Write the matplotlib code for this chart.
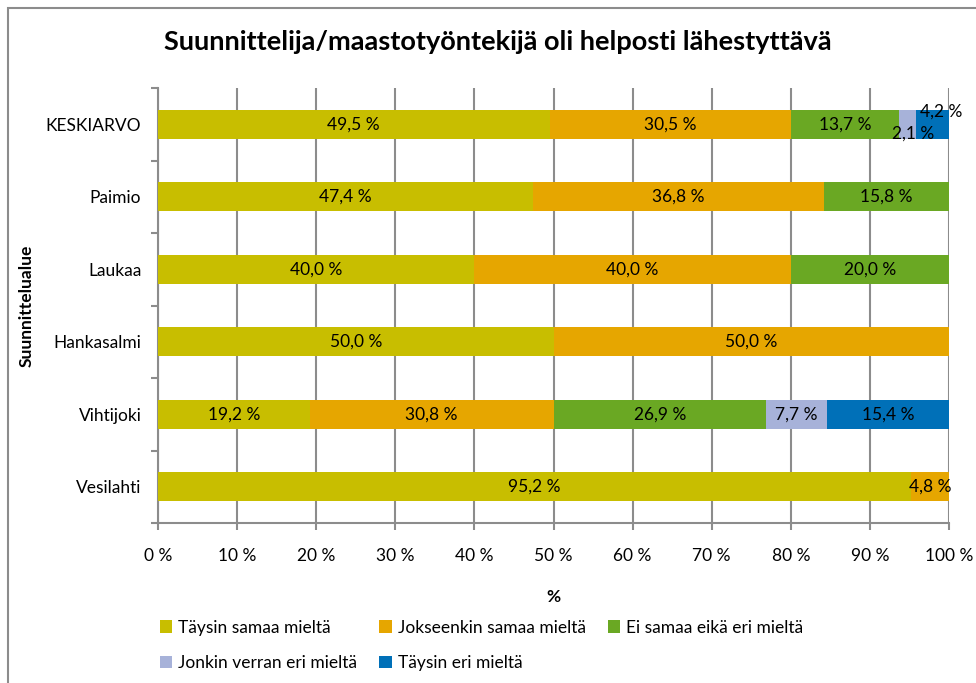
import matplotlib
matplotlib.use("Agg")
import matplotlib.pyplot as plt
from matplotlib.patches import Rectangle
import numpy as np

plt.rcParams['font.family'] = ['Lato', 'DejaVu Sans']

categories = ["Vesilahti", "Vihtijoki", "Hankasalmi", "Laukaa", "Paimio", "KESKIARVO"]
series_names = ["Täysin samaa mieltä", "Jokseenkin samaa mieltä", "Ei samaa eikä eri mieltä",
                "Jonkin verran eri mieltä", "Täysin eri mieltä"]
taysin_samaa = [95.2, 19.2, 50.0, 40.0, 47.4, 49.5]
jokseenkin_samaa = [4.8, 30.8, 50.0, 40.0, 36.8, 30.5]
ei_samaa_eika_eri = [0, 26.9, 0, 20.0, 15.8, 13.7]
jonkin_verran_eri = [0, 7.7, 0, 0, 0, 2.1]
taysin_eri = [0, 15.4, 0, 0, 0, 4.2]
series = [taysin_samaa, jokseenkin_samaa, ei_samaa_eika_eri, jonkin_verran_eri, taysin_eri]
colors = ["#C8BE00", "#E6A600", "#6AA823", "#A7B2D9", "#0070B8"]
xticks = list(range(0, 101, 10))
xticklabels = [f"{v} %" for v in xticks]

FS = 12.5
fig = plt.figure(figsize=(9.76, 6.83), dpi=100)
W, H = 976, 683
# figure border (chart area frame)
fig.add_artist(Rectangle((8 / W, -0.1), 1.2, (H - 8) / H + 0.1, transform=fig.transFigure,
                         fill=False, edgecolor="#8c8c8c", linewidth=1.5))

ax = fig.add_axes([158 / W, 1 - 523 / H, (949 - 158) / W, (523 - 88) / H])
y = np.arange(len(categories))
left = np.zeros(len(categories))
handles = []
for vals, name, col in zip(series, series_names, colors):
    vals = np.array(vals, dtype=float)
    bars = ax.barh(y, vals, left=left, height=0.4, color=col, label=name, zorder=3)
    handles.append(bars)
    for i, (v, l) in enumerate(zip(vals, left)):
        if v <= 0:
            continue
        txt = f"{v:.1f} %".replace(".", ",")
        dx, dy = 0, 0
        if categories[i] == "KESKIARVO" and name == "Jonkin verran eri mieltä":
            dx, dy = 4, -7
        if categories[i] == "KESKIARVO" and name == "Täysin eri mieltä":
            dx, dy = 6, 9
        ax.annotate(txt, (l + v / 2, y[i]), xytext=(dx, dy), textcoords="offset points",
                    ha="center", va="center", fontsize=FS, color="black", zorder=5)
    left += vals

ax.set_xlim(0, 100)
ax.set_ylim(-0.5, len(categories) - 0.5)
ax.set_xticks(xticks)
ax.set_xticklabels(xticklabels, fontsize=FS)
ax.set_yticks(y)
ax.set_yticklabels(categories, fontsize=FS)
ax.set_yticks(np.arange(-0.5, len(categories), 1), minor=True)
ax.tick_params(axis="y", which="major", length=0, pad=12)
ax.tick_params(axis="y", which="minor", length=5, color="#8c8c8c", width=1.5, direction="out")
ax.tick_params(axis="x", which="major", length=5, color="#8c8c8c", width=1.5, direction="out", pad=13)
ax.grid(axis="x", color="#8c8c8c", linewidth=1.5, zorder=0)
for s in ["top", "right"]:
    ax.spines[s].set_visible(False)
for s in ["left", "bottom"]:
    ax.spines[s].set_color("#8c8c8c")
    ax.spines[s].set_linewidth(1.5)

ax.set_xlabel("%", fontsize=FS, fontweight="bold", labelpad=18)
ax.set_ylabel("Suunnittelualue", fontsize=FS, fontweight="bold", labelpad=8)

fig.text(498 / W, 1 - 42 / H, "Suunnittelija/maastotyöntekijä oli helposti lähestyttävä",
         ha="center", va="center", fontsize=19.5, fontweight="bold")

# row-major legend order for 3 columns x 2 rows
order = [0, 3, 1, 4, 2]
fig.legend([handles[i] for i in order], [series_names[i] for i in order],
           loc="upper left", bbox_to_anchor=(144 / W, 1 - 604 / H), ncol=3,
           frameon=False, fontsize=FS, handlelength=0.7, handleheight=0.7,
           handletextpad=0.35, columnspacing=1.3, labelspacing=1.1)

fig.savefig("out.png", dpi=100)
